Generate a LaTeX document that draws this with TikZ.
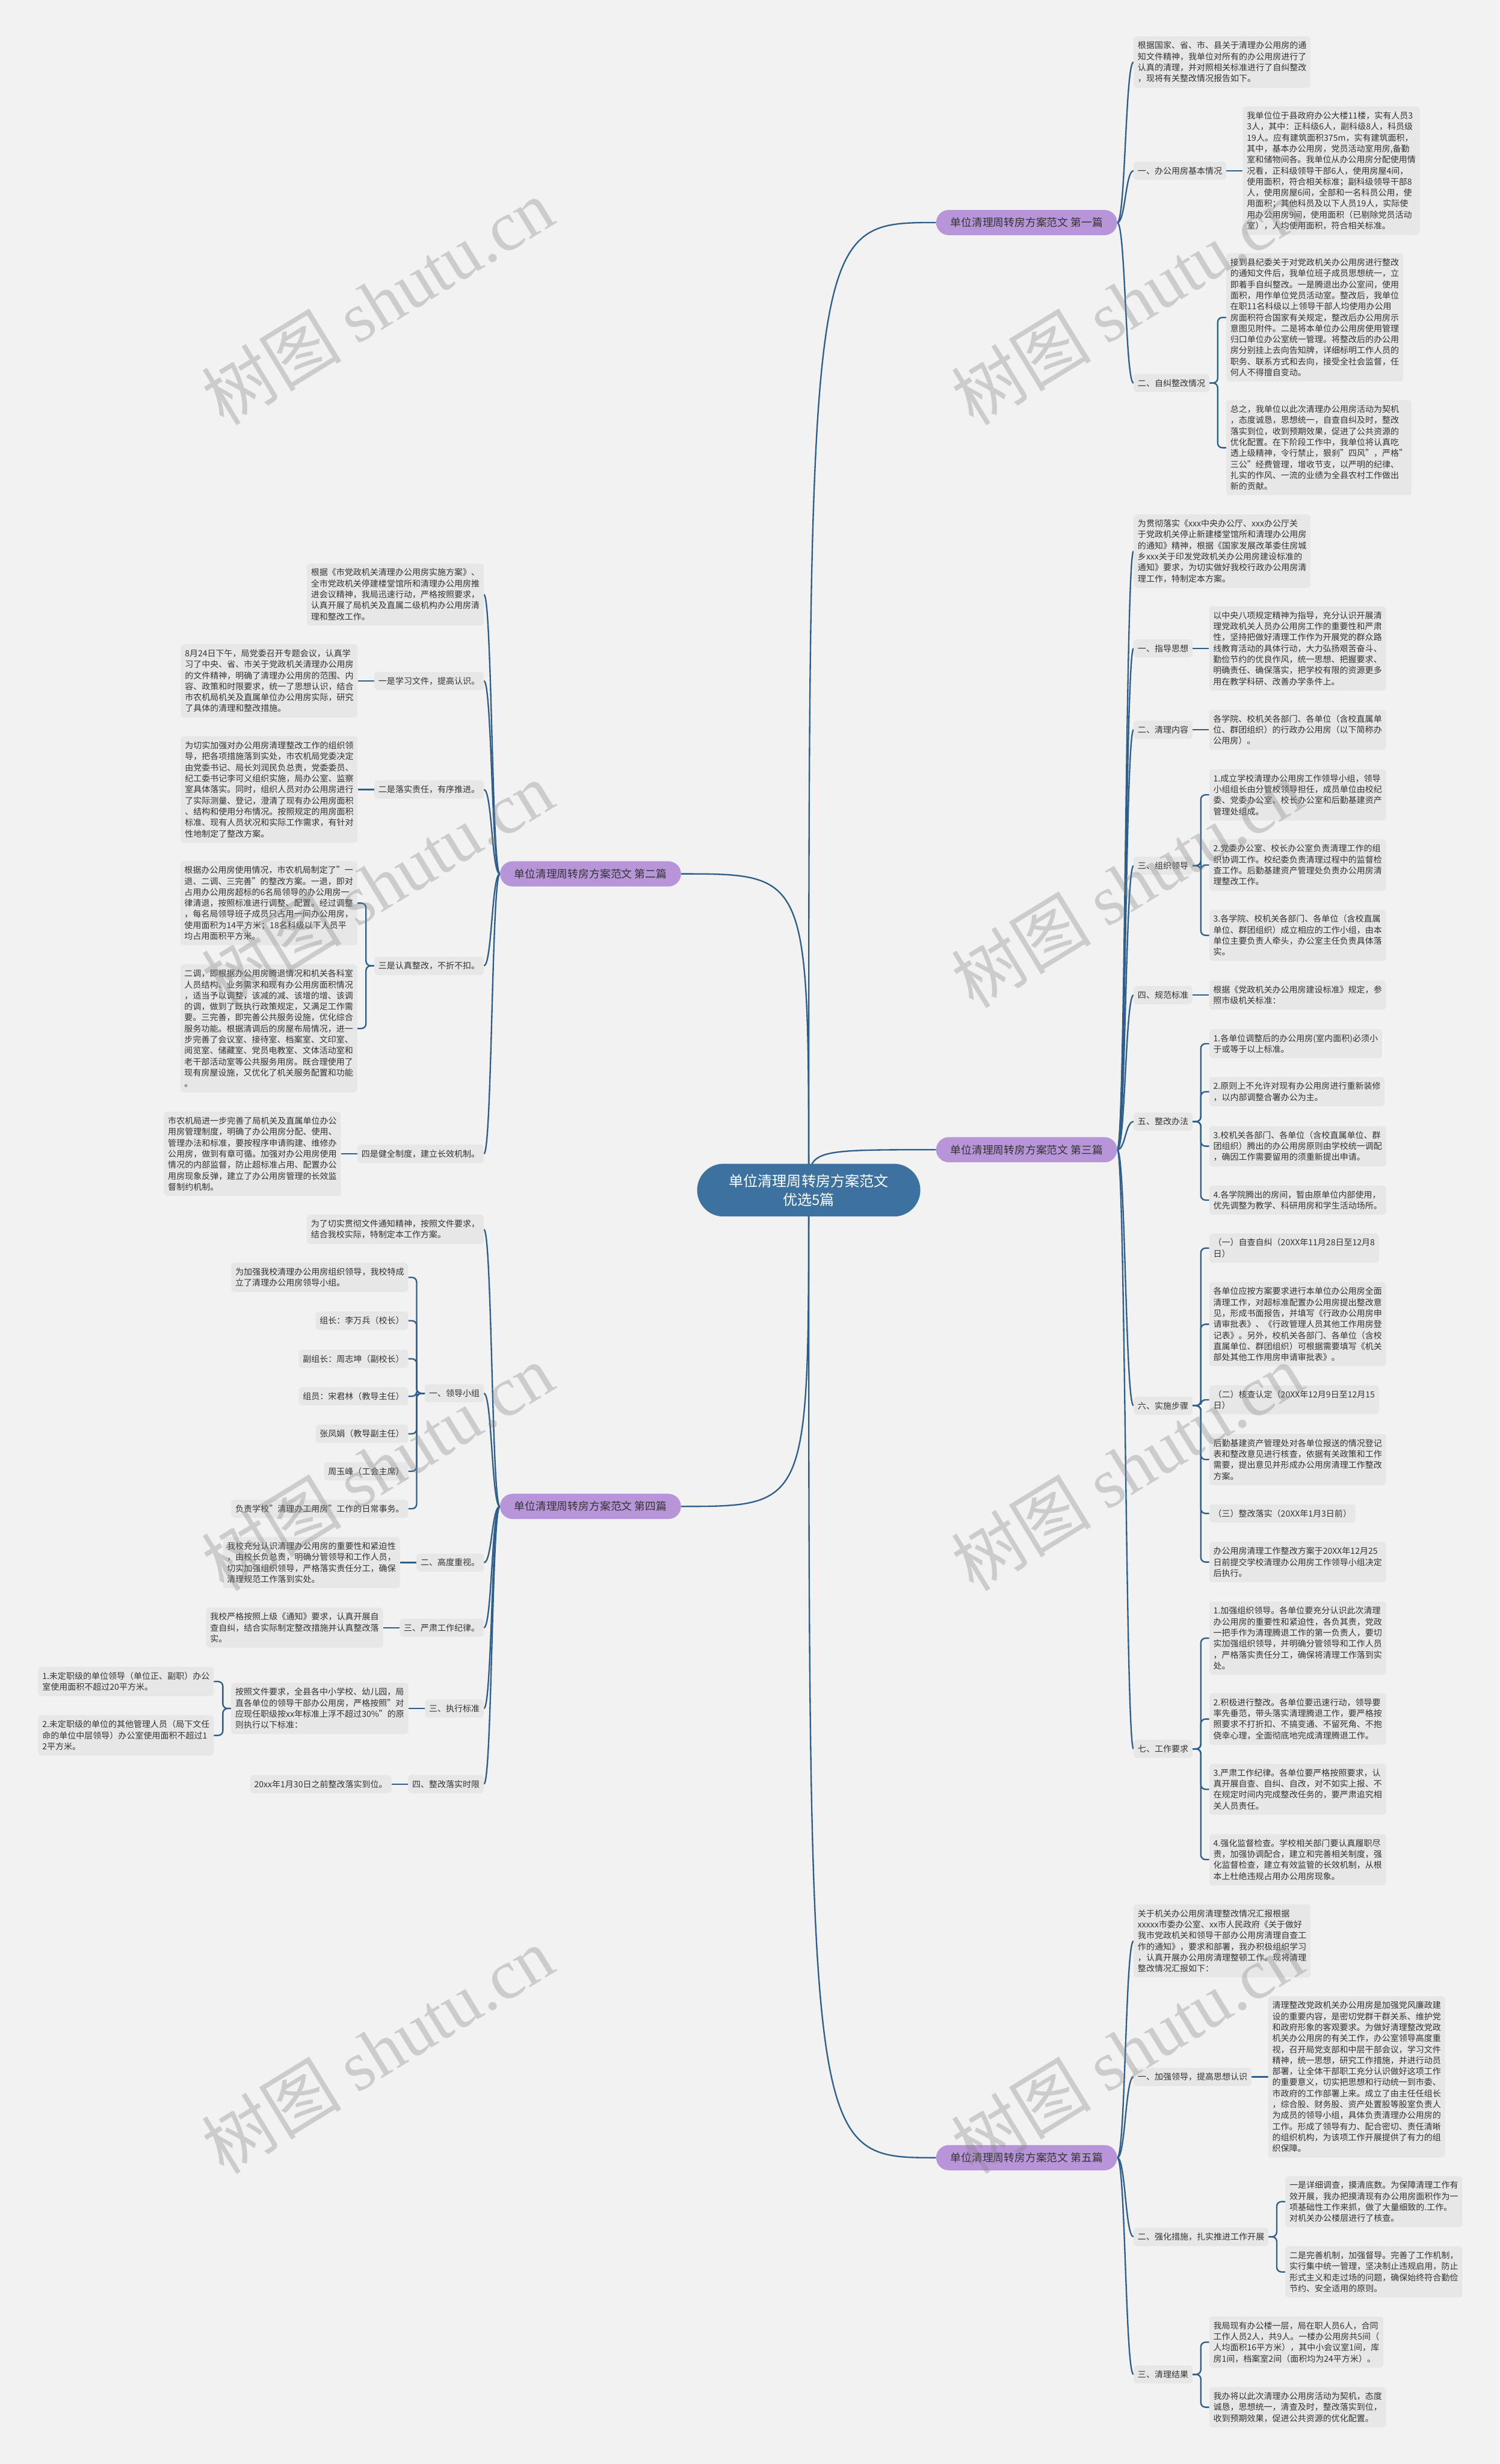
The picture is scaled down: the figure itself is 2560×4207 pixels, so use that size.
\documentclass[tikz,border=0pt]{standalone}
\usepackage{fontspec}
\setmainfont{Noto Sans CJK SC}
\newfontfamily\markserif{Liberation Serif}
\usetikzlibrary{positioning, backgrounds}
\definecolor{pagebg}{HTML}{F2F2F2}
\definecolor{boxgray}{HTML}{E7E7E7}
\definecolor{linkblue}{HTML}{2E5F8C}
\definecolor{rootblue}{HTML}{3C71A0}
\definecolor{topicpurple}{HTML}{B895D9}
\definecolor{inktext}{HTML}{333333}
\newcommand\leaffont{\fontsize{14.4}{18.8}\selectfont}
\newcommand\topicfont{\fontsize{18.3}{22}\selectfont}
\newcommand\rootfont{\fontsize{24.8}{31.7}\selectfont}
\newcommand\markfont{\fontsize{120}{130}\selectfont}

\begin{document}
\begin{tikzpicture}[
    x=1pt, y=-1pt,
    leaf/.style={fill=boxgray, rounded corners=6pt, inner xsep=7pt, inner ysep=8.8pt, align=left, font=\leaffont, text=inktext},
    topic/.style={fill=topicpurple, rounded corners=21.5pt, minimum width=309pt, minimum height=43pt, inner sep=0pt, font=\topicfont, text=inktext},
    rootnode/.style={fill=rootblue, rounded corners=45pt, minimum width=381pt, minimum height=90pt, inner sep=0pt, align=center, font=\rootfont, text=white},
    branchline/.style={draw=linkblue, line width=2.4pt},
    wmark/.style={text=black!50, text opacity=0.33, font=\markfont, rotate=31.5}
  ]
    \useasboundingbox (0,0) rectangle (2560,4207);

    % root and topics
    \node[rootnode] (root) at (1380.5,2032) {单位清理周转房方案范文\\优选5篇};
    \node[topic] (p1) at (1752.5,380) {单位清理周转房方案范文 第一篇};
    \node[topic] (p3) at (1752.5,1963) {单位清理周转房方案范文 第三篇};
    \node[topic] (p5) at (1752.5,3684) {单位清理周转房方案范文 第五篇};
    \node[topic] (p2) at (1008,1492) {单位清理周转房方案范文 第二篇};
    \node[topic] (p4) at (1008,2572) {单位清理周转房方案范文 第四篇};

    % 第一篇
    \node[leaf, anchor=west] (p1i) at (1935,106) {根据国家、省、市、县关于清理办公用房的通\\知文件精神，我单位对所有的办公用房进行了\\认真的清理，并对照相关标准进行了自纠整改\\，现将有关整改情况报告如下。};
    \node[leaf, anchor=west] (p1a) at (1935,291.5) {一、办公用房基本情况};
    \node[leaf, right=28pt of p1a] (p1a1) {我单位位于县政府办公大楼11楼，实有人员3\\3人，其中：正科级6人，副科级8人，科员级\\19人。应有建筑面积375m，实有建筑面积，\\其中，基本办公用房，党员活动室用房,备勤\\室和储物间各。我单位从办公用房分配使用情\\况看，正科级领导干部6人，使用房屋4间，\\使用面积，符合相关标准；副科级领导干部8\\人，使用房屋6间，全部和一名科员公用，使\\用面积；其他科员及以下人员19人，实际使\\用办公用房9间，使用面积（已剔除党员活动\\室），人均使用面积，符合相关标准。};
    \node[leaf, anchor=west] (p1b) at (1935,654) {二、自纠整改情况};
    \node[leaf, anchor=west] (p1b1) at (2093,542) {接到县纪委关于对党政机关办公用房进行整改\\的通知文件后，我单位班子成员思想统一，立\\即着手自纠整改。一是腾退出办公室间，使用\\面积，用作单位党员活动室。整改后，我单位\\在职11名科级以上领导干部人均使用办公用\\房面积符合国家有关规定，整改后办公用房示\\意图见附件。二是将本单位办公用房使用管理\\归口单位办公室统一管理。将整改后的办公用\\房分别挂上去向告知牌，详细标明工作人员的\\职务、联系方式和去向，接受全社会监督，任\\何人不得擅自变动。};
    \node[leaf, anchor=west] (p1b2) at (2093,764.5) {总之，我单位以此次清理办公用房活动为契机\\，态度诚恳，思想统一，自查自纠及时，整改\\落实到位，收到预期效果，促进了公共资源的\\优化配置。在下阶段工作中，我单位将认真吃\\透上级精神，令行禁止，狠刹"四风"，严格"\\三公"经费管理，增收节支，以严明的纪律、\\扎实的作风、一流的业绩为全县农村工作做出\\新的贡献。};

    % 第三篇
    \node[leaf, anchor=west] (p3i) at (1935,941) {为贯彻落实《xxx中央办公厅、xxx办公厅关\\于党政机关停止新建楼堂馆所和清理办公用房\\的通知》精神，根据《国家发展改革委住房城\\乡xxx关于印发党政机关办公用房建设标准的\\通知》要求，为切实做好我校行政办公用房清\\理工作，特制定本方案。};
    \node[leaf, anchor=west] (p3a) at (1935,1107) {一、指导思想};
    \node[leaf, right=28pt of p3a] (p3a1) {以中央八项规定精神为指导，充分认识开展清\\理党政机关人员办公用房工作的重要性和严肃\\性，坚持把做好清理工作作为开展党的群众路\\线教育活动的具体行动，大力弘扬艰苦奋斗、\\勤俭节约的优良作风，统一思想、把握要求、\\明确责任、确保落实，把学校有限的资源更多\\用在教学科研、改善办学条件上。};
    \node[leaf, anchor=west] (p3b) at (1935,1246) {二、清理内容};
    \node[leaf, right=28pt of p3b] (p3b1) {各学院、校机关各部门、各单位（含校直属单\\位、群团组织）的行政办公用房（以下简称办\\公用房）。};
    \node[leaf, anchor=west] (p3c) at (1935,1478) {三、组织领导};
    \node[leaf, anchor=west] (p3c1) at (2064,1357) {1.成立学校清理办公用房工作领导小组，领导\\小组组长由分管校领导担任，成员单位由校纪\\委、党委办公室、校长办公室和后勤基建资产\\管理处组成。};
    \node[leaf, anchor=west] (p3c2) at (2064,1477) {2.党委办公室、校长办公室负责清理工作的组\\织协调工作。校纪委负责清理过程中的监督检\\查工作。后勤基建资产管理处负责办公用房清\\理整改工作。};
    \node[leaf, anchor=west] (p3c3) at (2064,1597) {3.各学院、校机关各部门、各单位（含校直属\\单位、群团组织）成立相应的工作小组，由本\\单位主要负责人牵头，办公室主任负责具体落\\实。};
    \node[leaf, anchor=west] (p3d) at (1935,1699) {四、规范标准};
    \node[leaf, right=28pt of p3d] (p3d1) {根据《党政机关办公用房建设标准》规定，参\\照市级机关标准：};
    \node[leaf, anchor=west] (p3e) at (1935,1915) {五、整改办法};
    \node[leaf, anchor=west] (p3e1) at (2064,1782) {1.各单位调整后的办公用房(室内面积)必须小\\于或等于以上标准。};
    \node[leaf, anchor=west] (p3e2) at (2064,1864) {2.原则上不允许对现有办公用房进行重新装修\\，以内部调整合署办公为主。};
    \node[leaf, anchor=west] (p3e3) at (2064,1957) {3.校机关各部门、各单位（含校直属单位、群\\团组织）腾出的办公用房原则由学校统一调配\\，确因工作需要留用的须重新提出申请。};
    \node[leaf, anchor=west] (p3e4) at (2064,2049) {4.各学院腾出的房间，暂由原单位内部使用，\\优先调整为教学、科研用房和学生活动场所。};
    \node[leaf, anchor=west] (p3f) at (1935,2400) {六、实施步骤};
    \node[leaf, anchor=west] (p3f1) at (2064,2131) {（一）自查自纠（20XX年11月28日至12月8\\日）};
    \node[leaf, anchor=west] (p3f2) at (2064,2261) {各单位应按方案要求进行本单位办公用房全面\\清理工作，对超标准配置办公用房提出整改意\\见，形成书面报告，并填写《行政办公用房申\\请审批表》、《行政管理人员其他工作用房登\\记表》。另外，校机关各部门、各单位（含校\\直属单位、群团组织）可根据需要填写《机关\\部处其他工作用房申请审批表》。};
    \node[leaf, anchor=west] (p3f3) at (2064,2390) {（二）核查认定（20XX年12月9日至12月15\\日）};
    \node[leaf, anchor=west] (p3f4) at (2064,2492) {后勤基建资产管理处对各单位报送的情况登记\\表和整改意见进行核查，依据有关政策和工作\\需要，提出意见并形成办公用房清理工作整改\\方案。};
    \node[leaf, anchor=west] (p3f5) at (2064,2584) {（三）整改落实（20XX年1月3日前）};
    \node[leaf, anchor=west] (p3f6) at (2064,2667) {办公用房清理工作整改方案于20XX年12月25\\日前提交学校清理办公用房工作领导小组决定\\后执行。};
    \node[leaf, anchor=west] (p3g) at (1935,2986) {七、工作要求};
    \node[leaf, anchor=west] (p3g1) at (2064,2797) {1.加强组织领导。各单位要充分认识此次清理\\办公用房的重要性和紧迫性，各负其责，党政\\一把手作为清理腾退工作的第一负责人，要切\\实加强组织领导，并明确分管领导和工作人员\\，严格落实责任分工，确保将清理工作落到实\\处。};
    \node[leaf, anchor=west] (p3g2) at (2064,2935) {2.积极进行整改。各单位要迅速行动，领导要\\率先垂范，带头落实清理腾退工作，要严格按\\照要求不打折扣、不搞变通、不留死角、不抱\\侥幸心理，全面彻底地完成清理腾退工作。};
    \node[leaf, anchor=west] (p3g3) at (2064,3055) {3.严肃工作纪律。各单位要严格按照要求，认\\真开展自查、自纠、自改，对不如实上报、不\\在规定时间内完成整改任务的，要严肃追究相\\关人员责任。};
    \node[leaf, anchor=west] (p3g4) at (2064,3175) {4.强化监督检查。学校相关部门要认真履职尽\\责，加强协调配合，建立和完善相关制度，强\\化监督检查，建立有效监管的长效机制，从根\\本上杜绝违规占用办公用房现象。};

    % 第五篇
    \node[leaf, anchor=west] (p5i) at (1935,3314) {关于机关办公用房清理整改情况汇报根据\\xxxxx市委办公室、xx市人民政府《关于做好\\我市党政机关和领导干部办公用房清理自查工\\作的通知》，要求和部署，我办积极组织学习\\，认真开展办公用房清理整顿工作。现将清理\\整改情况汇报如下：};
    \node[leaf, anchor=west] (p5a) at (1935,3546) {一、加强领导，提高思想认识};
    \node[leaf, right=28pt of p5a] (p5a1) {清理整改党政机关办公用房是加强党风廉政建\\设的重要内容，是密切党群干群关系、维护党\\和政府形象的客观要求。为做好清理整改党政\\机关办公用房的有关工作，办公室领导高度重\\视，召开局党支部和中层干部会议，学习文件\\精神，统一思想，研究工作措施，并进行动员\\部署，让全体干部职工充分认识做好这项工作\\的重要意义，切实把思想和行动统一到市委、\\市政府的工作部署上来。成立了由主任任组长\\，综合股、财务股、资产处置股等股室负责人\\为成员的领导小组，具体负责清理办公用房的\\工作。形成了领导有力、配合密切、责任清晰\\的组织机构，为该项工作开展提供了有力的组\\织保障。};
    \node[leaf, anchor=west] (p5b) at (1935,3819) {二、强化措施，扎实推进工作开展};
    \node[leaf, anchor=west] (p5b1) at (2194,3759) {一是详细调查，摸清底数。为保障清理工作有\\效开展，我办把摸清现有办公用房面积作为一\\项基础性工作来抓，做了大量细致的.工作。\\对机关办公楼层进行了核查。};
    \node[leaf, anchor=west] (p5b2) at (2194,3879) {二是完善机制，加强督导。完善了工作机制，\\实行集中统一管理，坚决制止违规启用，防止\\形式主义和走过场的问题，确保始终符合勤俭\\节约、安全适用的原则。};
    \node[leaf, anchor=west] (p5c) at (1935,4054) {三、清理结果};
    \node[leaf, anchor=west] (p5c1) at (2064,3999) {我局现有办公楼一层，局在职人员6人，合同\\工作人员2人，共9人。一楼办公用房共5间（\\人均面积16平方米），其中小会议室1间，库\\房1间，档案室2间（面积均为24平方米）。};
    \node[leaf, anchor=west] (p5c2) at (2064,4110) {我办将以此次清理办公用房活动为契机，态度\\诚恳，思想统一，清查及时，整改落实到位，\\收到预期效果，促进公共资源的优化配置。};

    % 第二篇
    \node[leaf, anchor=east] (p2i) at (826,1015) {根据《市党政机关清理办公用房实施方案》、\\全市党政机关停建楼堂馆所和清理办公用房推\\进会议精神，我局迅速行动，严格按照要求，\\认真开展了局机关及直属二级机构办公用房清\\理和整改工作。};
    \node[leaf, anchor=east] (p2a) at (826,1162.5) {一是学习文件，提高认识。};
    \node[leaf, left=28pt of p2a] (p2a1) {8月24日下午，局党委召开专题会议，认真学\\习了中央、省、市关于党政机关清理办公用房\\的文件精神，明确了清理办公用房的范围、内\\容、政策和时限要求，统一了思想认识，结合\\市农机局机关及直属单位办公用房实际，研究\\了具体的清理和整改措施。};
    \node[leaf, anchor=east] (p2b) at (826,1348) {二是落实责任，有序推进。};
    \node[leaf, left=28pt of p2b] (p2b1) {为切实加强对办公用房清理整改工作的组织领\\导，把各项措施落到实处，市农机局党委决定\\由党委书记、局长刘润民负总责，党委委员、\\纪工委书记李可义组织实施，局办公室、监察\\室具体落实。同时，组织人员对办公用房进行\\了实际测量、登记，澄清了现有办公用房面积\\、结构和使用分布情况。按照规定的用房面积\\标准、现有人员状况和实际工作需求，有针对\\性地制定了整改方案。};
    \node[leaf, anchor=east] (p2c) at (826,1649) {三是认真整改，不折不扣。};
    \node[leaf, anchor=east] (p2c1) at (610,1542) {根据办公用房使用情况，市农机局制定了"一\\退、二调、三完善"的整改方案。一退，即对\\占用办公用房超标的6名局领导的办公用房一\\律清退，按照标准进行调整、配置。经过调整\\，每名局领导班子成员只占用一间办公用房，\\使用面积为14平方米；18名科级以下人员平\\均占用面积平方米。};
    \node[leaf, anchor=east] (p2c2) at (610,1756) {二调，即根据办公用房腾退情况和机关各科室\\人员结构、业务需求和现有办公用房面积情况\\，适当予以调整，该减的减、该增的增、该调\\的调，做到了既执行政策规定，又满足工作需\\要。三完善，即完善公共服务设施，优化综合\\服务功能。根据清调后的房屋布局情况，进一\\步完善了会议室、接待室、档案室、文印室、\\阅览室、储藏室、党员电教室、文体活动室和\\老干部活动室等公共服务用房。既合理使用了\\现有房屋设施，又优化了机关服务配置和功能\\。};
    \node[leaf, anchor=east] (p2d) at (826,1970) {四是健全制度，建立长效机制。};
    \node[leaf, left=28pt of p2d] (p2d1) {市农机局进一步完善了局机关及直属单位办公\\用房管理制度，明确了办公用房分配、使用、\\管理办法和标准，要按程序申请购建、维修办\\公用房，做到有章可循。加强对办公用房使用\\情况的内部监督，防止超标准占用、配置办公\\用房现象反弹，建立了办公用房管理的长效监\\督制约机制。};

    % 第四篇
    \node[leaf, anchor=east] (p4i) at (826,2099) {为了切实贯彻文件通知精神，按照文件要求，\\结合我校实际，特制定本工作方案。};
    \node[leaf, anchor=east] (p4a) at (826,2379) {一、领导小组};
    \node[leaf, anchor=east] (p4a1) at (697,2181) {为加强我校清理办公用房组织领导，我校特成\\立了清理办公用房领导小组。};
    \node[leaf, anchor=east] (p4a2) at (697,2255) {组长：李万兵（校长）};
    \node[leaf, anchor=east] (p4a3) at (697,2320) {副组长：周志坤（副校长）};
    \node[leaf, anchor=east] (p4a4) at (697,2384) {组员：宋君林（教导主任）};
    \node[leaf, anchor=east] (p4a5) at (697,2448) {张凤娟（教导副主任）};
    \node[leaf, anchor=east] (p4a6) at (697,2512) {周玉峰（工会主席）};
    \node[leaf, anchor=east] (p4a7) at (697,2576) {负责学校"清理办工用房"工作的日常事务。};
    \node[leaf, anchor=east] (p4b) at (826,2668) {二、高度重视。};
    \node[leaf, left=28pt of p4b] (p4b1) {我校充分认识清理办公用房的重要性和紧迫性\\，由校长负总责，明确分管领导和工作人员，\\切实加强组织领导，严格落实责任分工，确保\\清理规范工作落到实处。};
    \node[leaf, anchor=east] (p4c) at (826,2779) {三、严肃工作纪律。};
    \node[leaf, left=28pt of p4c] (p4c1) {我校严格按照上级《通知》要求，认真开展自\\查自纠，结合实际制定整改措施并认真整改落\\实。};
    \node[leaf, anchor=east] (p4d) at (826,2917) {三、执行标准};
    \node[leaf, left=28pt of p4d] (p4d1) {按照文件要求，全县各中小学校、幼儿园，局\\直各单位的领导干部办公用房，严格按照"对\\应现任职级按xx年标准上浮不超过30\%"的原\\则执行以下标准：};
    \node[leaf, anchor=east] (p4d1a) at (365,2871) {1.未定职级的单位领导（单位正、副职）办公\\室使用面积不超过20平方米。};
    \node[leaf, anchor=east] (p4d1b) at (365,2963) {2.未定职级的单位的其他管理人员（局下文任\\命的单位中层领导）办公室使用面积不超过1\\2平方米。};
    \node[leaf, anchor=east] (p4e) at (826,3046) {四、整改落实时限};
    \node[leaf, left=28pt of p4e] (p4e1) {20xx年1月30日之前整改落实到位。};

    % connectors
    \begin{scope}[on background layer]
      \fill[pagebg] (0,0) rectangle (2560,4207);
      \foreach \p in {p1,p3,p5}
        \draw[branchline] (root.center) .. controls (root.center |- \p.west) .. (\p.west);
      \foreach \p in {p2,p4}
        \draw[branchline] (root.center) .. controls (root.center |- \p.east) .. (\p.east);
      \foreach \k in {p1i,p1a,p1b}
        \draw[branchline] (p1.east) .. controls +(14,0) and +(-14,0) .. (\k.west);
      \foreach \k in {p3i,p3a,p3b,p3c,p3d,p3e,p3f,p3g}
        \draw[branchline] (p3.east) .. controls +(14,0) and +(-14,0) .. (\k.west);
      \foreach \k in {p5i,p5a,p5b,p5c}
        \draw[branchline] (p5.east) .. controls +(14,0) and +(-14,0) .. (\k.west);
      \foreach \k in {p2i,p2a,p2b,p2c,p2d}
        \draw[branchline] (p2.west) .. controls +(-14,0) and +(14,0) .. (\k.east);
      \foreach \k in {p4i,p4a,p4b,p4c,p4d,p4e}
        \draw[branchline] (p4.west) .. controls +(-14,0) and +(14,0) .. (\k.east);
      % brackets
      \foreach \k in {p1b1,p1b2}
        \draw[branchline, rounded corners=8pt] (p1b.east) -- ++(14,0) |- (\k.west);
      \foreach \k in {p3c1,p3c2,p3c3}
        \draw[branchline, rounded corners=8pt] (p3c.east) -- ++(14,0) |- (\k.west);
      \foreach \k in {p3e1,p3e2,p3e3,p3e4}
        \draw[branchline, rounded corners=8pt] (p3e.east) -- ++(14,0) |- (\k.west);
      \foreach \k in {p3f1,p3f2,p3f3,p3f4,p3f5,p3f6}
        \draw[branchline, rounded corners=8pt] (p3f.east) -- ++(14,0) |- (\k.west);
      \foreach \k in {p3g1,p3g2,p3g3,p3g4}
        \draw[branchline, rounded corners=8pt] (p3g.east) -- ++(14,0) |- (\k.west);
      \foreach \k in {p5b1,p5b2}
        \draw[branchline, rounded corners=8pt] (p5b.east) -- ++(14,0) |- (\k.west);
      \foreach \k in {p5c1,p5c2}
        \draw[branchline, rounded corners=8pt] (p5c.east) -- ++(14,0) |- (\k.west);
      \foreach \k in {p2c1,p2c2}
        \draw[branchline, rounded corners=8pt] (p2c.west) -- ++(-14,0) |- (\k.east);
      \foreach \k in {p4a1,p4a2,p4a3,p4a4,p4a5,p4a6,p4a7}
        \draw[branchline, rounded corners=8pt] (p4a.west) -- ++(-14,0) |- (\k.east);
      \foreach \k in {p4d1a,p4d1b}
        \draw[branchline, rounded corners=8pt] (p4d1.west) -- ++(-14,0) |- (\k.east);
      % single children
      \draw[branchline] (p1a.east) -- (p1a1.west);
      \draw[branchline] (p3a.east) -- (p3a1.west);
      \draw[branchline] (p3b.east) -- (p3b1.west);
      \draw[branchline] (p3d.east) -- (p3d1.west);
      \draw[branchline] (p5a.east) -- (p5a1.west);
      \draw[branchline] (p2a.west) -- (p2a1.east);
      \draw[branchline] (p2b.west) -- (p2b1.east);
      \draw[branchline] (p2d.west) -- (p2d1.east);
      \draw[branchline] (p4b.west) -- (p4b1.east);
      \draw[branchline] (p4c.west) -- (p4c1.east);
      \draw[branchline] (p4d.west) -- (p4d1.east);
      \draw[branchline] (p4e.west) -- (p4e1.east);
    \end{scope}

    % watermarks
    \foreach \wx/\wy [count=\i] in {644/515, 1924/515, 644/1510, 1924/1510, 644/2505, 1924/2505, 644/3500, 1924/3500}
      \node[wmark] (wm\i) at (\wx,\wy) {树图 {\markserif shutu.cn}};
  \end{tikzpicture}
\end{document}
